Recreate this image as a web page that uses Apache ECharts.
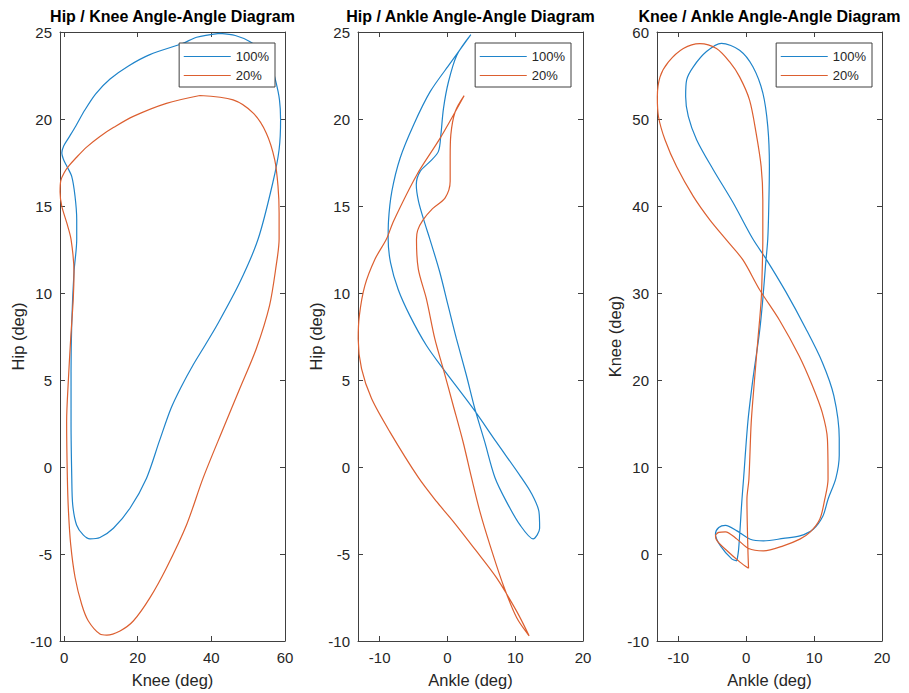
<!DOCTYPE html>
<html>
<head>
<meta charset="utf-8">
<script src="https://cdn.jsdelivr.net/npm/echarts@6/dist/echarts.min.js"></script>
<style>
html,body{margin:0;padding:0;background:#fff;}
#chart{width:909px;height:693px;}
</style>
</head>
<body>
<div id="chart"></div>
<script>
// ---- Data ----
// Panel 1: [knee, hip]
const hipKnee100 = [[42.3,24.92],[36,24.7],[32.3,24.35],[23.3,23.7],[17.5,23.05],[12.5,22.3],[8.6,21.45],[5.6,20.5],[3.2,19.6],[1.2,18.9],[-0.1,18.45],[-0.6,18.05],[-0.2,17.7],[0.6,17.35],[2.08,16.7],[2.98,15.56],[3.44,14.23],[3.44,13.08],[2.7,11.2],[2.1,8.33],[1.9,5.47],[1.9,2.6],[2.1,-0.64],[2.35,-2.17],[3.4,-3.33],[5.2,-3.9],[7.05,-4.13],[9.75,-4.05],[13.4,-3.52],[17.9,-2.37],[22.4,-0.64],[25.9,1.5],[29.0,3.35],[31.8,4.6],[35.0,5.85],[38.3,7.0],[41.4,8.1],[47.7,10.6],[52.7,13.1],[56.7,16.35],[58.4,18.25],[58.8,19.96],[58.5,21.1],[57.5,22.16],[56.3,23.0],[54.2,23.85],[50.4,24.45],[46.5,24.8],[42.3,24.92]];
const hipKnee20 = [[36.9,21.35],[27.8,20.9],[18.8,20.15],[13.5,19.52],[9.75,19.0],[6.2,18.4],[3.4,17.8],[1.3,17.3],[0.0,16.9],[-0.9,16.45],[-1.08,15.8],[-0.62,14.99],[0.72,14.04],[1.9,13.08],[2.7,11.2],[2.5,9.66],[1.8,7.37],[1.2,5.1],[0.7,2.6],[0.9,-0.64],[1.2,-2.55],[1.8,-4.45],[3.0,-6.35],[4.8,-7.9],[6.6,-8.85],[9.75,-9.6],[11.6,-9.66],[15.2,-9.42],[18.8,-8.85],[23.3,-7.52],[27.8,-5.8],[33.25,-3.33],[37.75,-0.64],[43.2,2.2],[47.7,4.5],[52.2,6.8],[55.8,9.28],[57.6,11.57],[58.4,13.1],[58.4,14.6],[58.1,16.14],[57.2,17.67],[54.9,19.2],[51.3,20.35],[45.9,21.1],[36.9,21.35]];
// Panel 2: [ankle, hip]
const hipAnkle100 = [[3.45,24.85],[1.38,23.67],[0.15,22.14],[-0.59,20.6],[-0.97,19.1],[-1.33,18.14],[-2.55,17.56],[-4.03,16.99],[-4.6,16.23],[-4.27,15.27],[-3.29,13.94],[-2.6,13.1],[-1.12,11.18],[0.1,9.27],[1.33,7.36],[2.8,5.26],[4.04,3.35],[5.5,1.44],[7.0,-0.6],[8.7,-1.99],[10.7,-3.33],[12.64,-4.13],[13.6,-3.52],[13.5,-2.57],[12.4,-1.52],[10.8,-0.55],[7.2,1.44],[3.8,3.35],[-0.63,5.64],[-3.1,6.98],[-5.55,8.7],[-7.27,10.2],[-8.4,11.75],[-8.75,13.1],[-8.7,14.13],[-8.2,15.85],[-6.98,17.76],[-5.0,19.66],[-2.55,21.57],[0.5,23.25],[3.45,24.85]];
const hipAnkle20 = [[2.46,21.34],[1.14,20.42],[0.5,19.1],[0.4,17.76],[0.4,16.42],[-0.34,15.47],[-2.2,14.85],[-3.6,14.2],[-4.4,13.6],[-4.57,13.08],[-4.3,11.37],[-3.1,9.65],[-1.86,7.36],[-0.63,5.65],[0.84,3.55],[2.3,1.45],[3.54,-0.6],[4.78,-2.55],[6.25,-4.46],[8.2,-6.75],[10.2,-8.65],[12.05,-9.7],[10.18,-8.27],[7.23,-6.36],[4.28,-4.84],[0.84,-3.12],[-1.62,-1.98],[-4.3,-0.6],[-8.5,2.02],[-11.2,3.93],[-12.68,5.65],[-13.17,7.36],[-13.0,8.7],[-12.2,10.41],[-10.7,11.94],[-9.0,13.1],[-7.96,14.13],[-4.51,16.8],[-1.08,18.9],[2.46,21.34]];
// Panel 3: [ankle, knee]
const kneeAnkle100 = [[-1.37,-0.78],[-2.1,-0.59],[-3.8,0.94],[-4.54,2.28],[-4.05,3.05],[-3.07,3.3],[-1.37,2.66],[0.59,1.7],[2.54,1.51],[5.46,1.79],[7.9,2.08],[9.86,2.85],[11.3,4.38],[12.05,6.3],[13.2,8.7],[13.7,11.35],[13.7,13.3],[12.9,18.2],[11.2,22.05],[8.78,25.9],[5.86,30.1],[2.93,33.9],[0.98,36.2],[-1.95,40.4],[-4.88,44.2],[-7.3,47.6],[-8.54,50.3],[-8.93,52.6],[-8.78,54.5],[-7.8,56.0],[-5.86,57.75],[-3.66,58.7],[-0.98,57.9],[0.98,56.0],[2.44,53.0],[3.17,49.15],[3.41,44.6],[3.32,40.0],[3.17,36.2],[2.83,33.1],[2.44,29.3],[1.95,25.5],[0.98,20.1],[0.24,15.2],[-0.39,8.7],[-0.63,6.3],[-1.12,0.56],[-1.37,-0.78]];
const kneeAnkle20 = [[0.34,-1.65],[-0.88,-0.96],[-2.83,0.37],[-4.29,1.52],[-4.54,2.09],[-4.05,2.48],[-3.07,2.55],[-1.37,1.71],[0.34,0.64],[2.54,0.37],[5.46,0.94],[7.9,1.71],[9.37,2.48],[10.83,4.0],[11.57,6.3],[12.05,8.6],[11.96,13.2],[11.2,16.24],[9.76,19.3],[7.8,22.75],[4.88,26.9],[1.95,30.4],[-0.49,33.8],[-2.93,36.1],[-5.37,38.4],[-7.8,41.1],[-10.25,44.5],[-11.96,47.58],[-12.93,50.26],[-13.1,52.55],[-12.7,54.84],[-11.46,56.56],[-9.27,58.1],[-6.84,58.67],[-4.39,58.1],[-2.44,56.56],[-0.98,54.84],[0.49,52.17],[1.46,48.35],[2.2,44.5],[2.44,40.7],[2.44,36.1],[2.34,32.3],[2.2,29.2],[1.71,24.6],[1.22,20.05],[0.73,15.1],[0.39,8.6],[0.1,6.3],[0.24,0.56],[0.34,-1.65]];

const seriesNames = ['100%', '20%'];
const titles = ['Hip / Knee Angle-Angle Diagram', 'Hip / Ankle Angle-Angle Diagram', 'Knee / Ankle Angle-Angle Diagram'];
const xNames = ['Knee (deg)', 'Ankle (deg)', 'Ankle (deg)'];
const yNames = ['Hip (deg)', 'Hip (deg)', 'Knee (deg)'];
const xTicks = [[0, 20, 40, 60], [-10, 0, 10, 20], [-10, 0, 10, 20]];
const xRanges = [[-1.1, 60], [-13.2, 20], [-13.15, 20]];
const yRanges = [[-10, 25, 5], [-10, 25, 5], [-10, 60, 10]];
const panelData = [[hipKnee100, hipKnee20], [hipAnkle100, hipAnkle20], [kneeAnkle100, kneeAnkle20]];

// ---- Layout / style ----
const FONT = '"Liberation Sans", Arial, Helvetica, sans-serif';
const COLORS = ['#1f84ca', '#dc5f30'];
const AX = '#404040';
const TXT = '#262626';
const gridLefts = [60, 358, 657];
const legendRights = [634, 338, 37];
const GW = 225, GT = 32, GH = 611;

const chart = echarts.init(document.getElementById('chart'), null, {renderer: 'svg'});
const grid = [], xAxis = [], yAxis = [], series = [], legend = [];

for (let i = 0; i < 3; i++) {
  grid.push({left: gridLefts[i], top: GT, width: GW, height: GH, containLabel: false});
  const line = {show: true, onZero: false, lineStyle: {color: AX, width: 1}};
  const tick = {show: true, inside: true, length: 5, lineStyle: {color: AX, width: 1}, customValues: xTicks[i]};
  xAxis.push({
    gridIndex: i, type: 'value', position: 'bottom', min: xRanges[i][0], max: xRanges[i][1],
    axisLine: line, axisTick: tick, splitLine: {show: false},
    axisLabel: {customValues: xTicks[i], margin: 9, fontSize: 15, color: TXT, fontFamily: FONT},
    name: xNames[i], nameLocation: 'middle', nameGap: 30,
    nameTextStyle: {fontSize: 16.5, color: TXT, fontFamily: FONT}
  });
  xAxis.push({
    gridIndex: i, type: 'value', position: 'top', min: xRanges[i][0], max: xRanges[i][1],
    axisLine: line, axisTick: tick, splitLine: {show: false}, axisLabel: {show: false},
    name: titles[i], nameLocation: 'middle', nameGap: 7.5,
    nameTextStyle: {fontSize: 16, fontWeight: 'bold', color: '#000', fontFamily: FONT}
  });
  const ytick = {show: true, inside: true, length: 5, lineStyle: {color: AX, width: 1}};
  yAxis.push({
    gridIndex: i, type: 'value', position: 'left', min: yRanges[i][0], max: yRanges[i][1], interval: yRanges[i][2],
    axisLine: line, axisTick: ytick, splitLine: {show: false},
    axisLabel: {margin: 8, fontSize: 15, color: TXT, fontFamily: FONT},
    name: yNames[i], nameLocation: 'middle', nameGap: 32, nameRotate: 90,
    nameTextStyle: {fontSize: 16.5, color: TXT, fontFamily: FONT}
  });
  yAxis.push({
    gridIndex: i, type: 'value', position: 'right', min: yRanges[i][0], max: yRanges[i][1], interval: yRanges[i][2],
    axisLine: line, axisTick: ytick, splitLine: {show: false}, axisLabel: {show: false}
  });
  for (let s = 0; s < 2; s++) {
    series.push({
      name: seriesNames[s], type: 'line', xAxisIndex: 2 * i, yAxisIndex: 2 * i,
      data: panelData[i][s], symbol: 'none', smooth: 0.3, clip: true,
      lineStyle: {color: COLORS[s], width: 1.2}, itemStyle: {color: COLORS[s]},
      animation: false, z: 2 + s
    });
  }
  legend.push({
    data: seriesNames, orient: 'vertical', right: legendRights[i], top: 43,
    itemWidth: 47, itemHeight: 12, itemGap: 6, padding: [7, 6, 5, 4],
    backgroundColor: '#fff', borderColor: AX, borderWidth: 1, borderRadius: 0,
    itemStyle: {opacity: 0, borderWidth: 0},
    lineStyle: {width: 1.2},
    textStyle: {fontSize: 13, color: TXT, fontFamily: FONT},
    selectedMode: false, z: 10
  });
}

chart.setOption({
  backgroundColor: '#fff',
  animation: false,
  textStyle: {fontFamily: FONT},
  grid, xAxis, yAxis, series, legend
});
</script>
</body>
</html>
